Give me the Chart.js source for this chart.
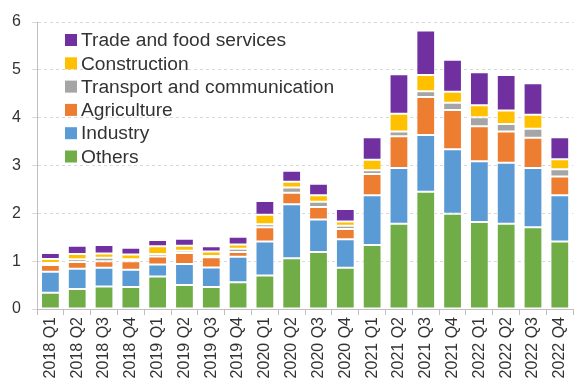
<!DOCTYPE html>
<html>
<head>
<meta charset="utf-8">
<script src="https://cdn.jsdelivr.net/npm/chart.js@4"></script>
<style>
  html, body { margin: 0; padding: 0; background: #fff; overflow: hidden; }
  #wrap { width: 581px; height: 385px; }
</style>
</head>
<body>
<div id="wrap"><canvas id="c" width="581" height="385"></canvas></div>
<script>
// Quarterly contributions by sector
const quarters = ['2018 Q1','2018 Q2','2018 Q3','2018 Q4','2019 Q1','2019 Q2','2019 Q3','2019 Q4',
                  '2020 Q1','2020 Q2','2020 Q3','2020 Q4','2021 Q1','2021 Q2','2021 Q3','2021 Q4',
                  '2022 Q1','2022 Q2','2022 Q3','2022 Q4'];

const others       = [0.34,0.42,0.47,0.46,0.68,0.50,0.46,0.56,0.70,1.06,1.19,0.86,1.34,1.78,2.45,1.99,1.82,1.78,1.71,1.41];
const industry     = [0.44,0.42,0.39,0.36,0.25,0.44,0.41,0.53,0.71,1.13,0.68,0.60,1.04,1.17,1.19,1.35,1.27,1.28,1.24,0.97];
const agriculture  = [0.14,0.14,0.14,0.18,0.17,0.23,0.21,0.10,0.30,0.24,0.26,0.21,0.44,0.66,0.79,0.82,0.73,0.65,0.63,0.39];
const transport    = [0.04,0.06,0.07,0.04,0.05,0.05,0.03,0.07,0.06,0.11,0.11,0.07,0.08,0.10,0.12,0.15,0.19,0.16,0.19,0.15];
const construction = [0.085,0.11,0.09,0.10,0.16,0.10,0.09,0.09,0.20,0.12,0.14,0.09,0.22,0.37,0.34,0.23,0.25,0.28,0.29,0.21];
const trade        = [0.125,0.17,0.18,0.14,0.13,0.15,0.11,0.16,0.29,0.23,0.24,0.26,0.47,0.83,0.93,0.67,0.69,0.74,0.66,0.46];

const yTicks = [0, 1, 2, 3, 4, 5, 6];

const series = [
  { label: 'Others',                     data: others,       color: '#70AD47' },
  { label: 'Industry',                   data: industry,     color: '#5B9BD5' },
  { label: 'Agriculture',                data: agriculture,  color: '#ED7D31' },
  { label: 'Transport and communication',data: transport,    color: '#A5A5A5' },
  { label: 'Construction',               data: construction, color: '#FFC000' },
  { label: 'Trade and food services',    data: trade,        color: '#7030A0' }
];

const FONT = "'Liberation Sans', Arial, sans-serif";
const TEXT = '#333333';

// Legend drawn inside the plot area, top series first
const insideLegend = {
  id: 'insideLegend',
  afterDraw(chart) {
    const ctx = chart.ctx;
    const ds = chart.data.datasets.slice().reverse();
    const x0 = 65, y0 = 40, step = 23.3, box = 12;
    ctx.save();
    ctx.font = '19.2px ' + FONT;
    ctx.textBaseline = 'middle';
    ctx.textAlign = 'left';
    ds.forEach((d, i) => {
      const y = y0 + i * step;
      ctx.fillStyle = d.backgroundColor;
      ctx.fillRect(x0, y - box / 2, box, box);
      ctx.fillStyle = TEXT;
      ctx.fillText(d.label, x0 + 16, y + 1);
    });
    ctx.restore();
  }
};

new Chart(document.getElementById('c'), {
  type: 'bar',
  data: {
    labels: quarters,
    datasets: series.map(s => ({
      label: s.label,
      data: s.data,
      backgroundColor: s.color,
      borderColor: 'rgba(255,255,255,0.75)',
      borderWidth: 1,
      borderSkipped: false,
      categoryPercentage: 1.0,
      barPercentage: 0.7
    }))
  },
  options: {
    responsive: false,
    animation: false,
    devicePixelRatio: 1,
    layout: { padding: { top: 22, left: 0, right: 0, bottom: 0 } },
    plugins: {
      legend: { display: false },
      tooltip: { enabled: false }
    },
    scales: {
      x: {
        stacked: true,
        grid: {
          offset: true,
          drawOnChartArea: false,
          drawTicks: true,
          tickLength: 6,
          color: '#BFBFBF'
        },
        border: { color: '#BFBFBF', width: 1 },
        ticks: {
          autoSkip: false,
          minRotation: 90,
          maxRotation: 90,
          padding: 2,
          color: TEXT,
          font: { family: FONT, size: 16 }
        },
        afterFit(scale) { scale.height = 76; }
      },
      y: {
        stacked: true,
        min: 0,
        max: 6,
        afterBuildTicks(scale) { scale.ticks = yTicks.map(v => ({ value: v })); },
        grid: {
          color: '#D9D9D9',
          tickLength: 5,
          tickColor: '#D9D9D9',
          lineWidth: 1
        },
        border: { color: '#BFBFBF', width: 1, dash: [3, 3] },
        ticks: {
          padding: 11,
          color: TEXT,
          font: { family: FONT, size: 16 }
        },
        afterFit(scale) { scale.width = 37; }
      }
    }
  },
  plugins: [insideLegend]
});
</script>
</body>
</html>
